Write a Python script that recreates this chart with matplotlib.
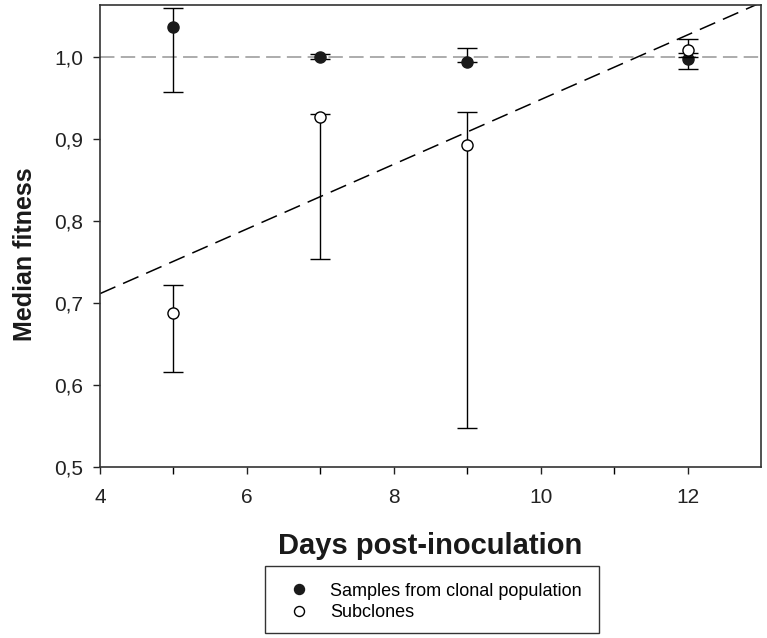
import matplotlib.pyplot as plt
import numpy as np
from matplotlib.patches import Rectangle

plt.rcParams['font.family'] = ['Liberation Sans', 'DejaVu Sans']

days = [5, 7, 9, 12]

# samples from clonal population
clonal = [1.036, 1.000, 0.994, 0.997]
clonal_lo = [0.957, 0.997, 0.994, 0.985]
clonal_hi = [1.059, 1.003, 1.011, 1.005]

# subclones
sub = [0.688, 0.927, 0.892, 1.008]
sub_lo = [0.616, 0.754, 0.547, 1.000]
sub_hi = [0.722, 0.930, 0.933, 1.022]

fig = plt.figure(figsize=(7.67, 6.38), dpi=100)
ax = fig.add_axes([100 / 767, 1 - 467 / 638, 661 / 767, 462 / 638])

ax.axhline(1.0, color='#a6a6a6', ls=(0, (8, 3.5)), lw=1.3, zorder=1)

# regression line through subclones
slope, icpt = np.polyfit(days, sub, 1)
xs = np.array([4, 13])
ax.plot(xs, icpt + slope * xs, color='black', ls=(0, (11, 5.5)), lw=1.1, zorder=1)

d = np.array(days)
ax.errorbar(d, clonal, yerr=[np.array(clonal) - clonal_lo, np.array(clonal_hi) - clonal],
            fmt='o', ms=8, mfc='#1a1a1a', mec='#1a1a1a', ecolor='black',
            elinewidth=1.0, capsize=7, capthick=1.0, zorder=3,
            label='Samples from clonal population')
ax.errorbar(d, sub, yerr=[np.array(sub) - sub_lo, np.array(sub_hi) - sub],
            fmt='o', ms=8, mfc='white', mec='black', mew=1.0, ecolor='black',
            elinewidth=1.0, capsize=7, capthick=1.0, zorder=4,
            label='Subclones')

ax.set_xlim(4, 13)
ax.set_ylim(0.5, 1.063)
ax.set_xticks([4, 6, 8, 10, 12])
ax.set_xticks([5, 7, 9, 11], minor=True)
ax.set_yticks([0.5, 0.6, 0.7, 0.8, 0.9, 1.0])
ax.set_yticklabels(['0,5', '0,6', '0,7', '0,8', '0,9', '1,0'])
ax.tick_params(axis='both', which='major', labelsize=15, length=5, width=1.0,
               direction='out', colors='#222222', pad=7)
ax.tick_params(axis='x', which='major', pad=10)
ax.tick_params(axis='x', which='minor', length=5, width=1.0, direction='out')
for s in ax.spines.values():
    s.set_linewidth(1.2)
    s.set_color('#333333')

ax.set_xlabel('Days post-inoculation', fontsize=21, fontweight='bold', labelpad=18,
              color='#1a1a1a')
ax.set_ylabel('Median fitness', fontsize=18, fontweight='bold', color='#1a1a1a')
ax.yaxis.set_label_coords(-0.095, 0.46)

# legend box
fig.patches.append(Rectangle((265 / 767, 1 - 633 / 638), 334 / 767, 67 / 638,
                             transform=fig.transFigure, fill=False,
                             edgecolor='#333333', lw=1.0))
h, l = ax.get_legend_handles_labels()
h = [hh[0] for hh in h]
fig.legend(h, l, loc='upper left', bbox_to_anchor=(276 / 767, 1 - 570 / 638),
           frameon=False, fontsize=13, handlelength=1.2, handletextpad=1.1,
           labelspacing=0.25, borderpad=0.2, markerscale=0.9)

fig.savefig('out.png', dpi=100)
